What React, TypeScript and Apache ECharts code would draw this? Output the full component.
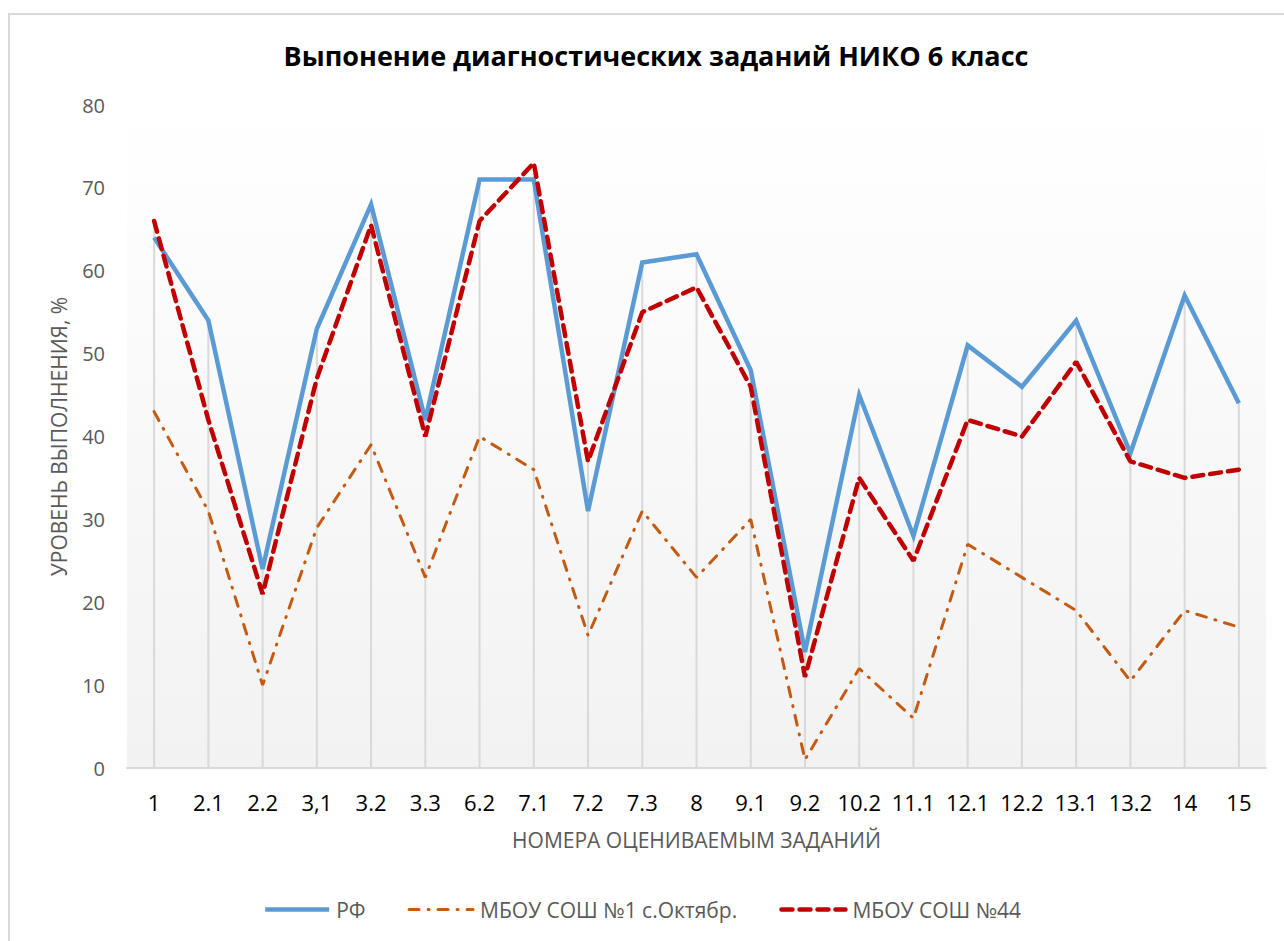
import React, { useEffect, useRef } from "react";
import * as echarts from "echarts";

const categories = ["1", "2.1", "2.2", "3,1", "3.2", "3.3", "6.2", "7.1", "7.2", "7.3", "8", "9.1", "9.2", "10.2", "11.1", "12.1", "12.2", "13.1", "13.2", "14", "15"];
const rfValues = [64, 54, 24, 53, 68, 42, 71, 71, 31, 61, 62, 48, 14, 45, 28, 51, 46, 54, 38, 57, 44];
const school1Values = [43, 31, 10, 29, 39, 23, 40, 36, 16, 31, 23, 30, 1, 12, 6, 27, 23, 19, 10.5, 19, 17];
const school44Values = [66, 42, 21, 47, 65.5, 40, 66, 73, 37, 55, 58, 46, 11, 35, 25, 42, 40, 49, 37, 35, 36];
const yTicks = [0, 10, 20, 30, 40, 50, 60, 70, 80];

const seriesNames = ["РФ", "МБОУ СОШ №1 с.Октябр.", "МБОУ СОШ №44"];
const dropLineValues = categories.map((_, i) => Math.max(rfValues[i], school1Values[i], school44Values[i]));

export default function App() {
  const ref = useRef<HTMLDivElement>(null);
  useEffect(() => {
    if (!ref.current) return;
    const chart = echarts.init(ref.current, null, { renderer: "svg" });
    const font = "'Open Sans', 'Noto Sans', sans-serif";
    chart.setOption({
      animation: false,
      backgroundColor: "#ffffff",
      textStyle: { fontFamily: font },
      title: {
        text: "Выпонение диагностических заданий НИКО 6 класс",
        left: 651,
        top: 37,
        textAlign: "center",
        textStyle: { fontSize: 27, fontWeight: "bold", color: "#000000", fontFamily: font },
      },
      graphic: [
        {
          type: "rect",
          shape: { x: 9, y: 14, width: 1400, height: 1000 },
          style: { fill: "none", stroke: "#d9d9d9", lineWidth: 2 },
          silent: true,
        },
      ],
      legend: {
        data: seriesNames,
        bottom: 16,
        left: "center",
        itemWidth: 64,
        itemHeight: 10,
        itemGap: 42,
        itemStyle: { opacity: 0 },
        lineStyle: { width: "inherit" },
        textStyle: { fontSize: 21, color: "#595959", fontFamily: font, padding: [0, 0, 0, 2] },
      },
      grid: {
        left: 127,
        right: 18,
        top: 105,
        bottom: 173,
        show: true,
        borderWidth: 0,
        backgroundColor: new echarts.graphic.LinearGradient(0, 0, 0, 1, [
          { offset: 0, color: "#ffffff" },
          { offset: 1, color: "#f2f2f2" },
        ]),
      },
      xAxis: {
        type: "category",
        data: categories,
        boundaryGap: true,
        name: "НОМЕРА ОЦЕНИВАЕМЫМ ЗАДАНИЙ",
        nameLocation: "middle",
        nameGap: 61,
        nameTextStyle: { fontSize: 21, color: "#595959" },
        axisLine: { show: true, lineStyle: { color: "#d9d9d9", width: 2 } },
        axisTick: { show: false },
        axisLabel: { fontSize: 22, color: "#000000", margin: 23, interval: 0 },
        splitLine: { show: false },
      },
      yAxis: {
        type: "value",
        min: 0,
        max: 80,
        interval: 10,
        name: "УРОВЕНЬ ВЫПОЛНЕНИЯ, %",
        nameLocation: "middle",
        nameGap: 58,
        nameTextStyle: { fontSize: 21, color: "#595959" },
        axisLine: { show: false },
        axisTick: { show: false },
        splitLine: { show: false },
        axisLabel: {
          fontSize: 20,
          color: "#595959",
          margin: 22,
          formatter: (v: number) => (yTicks.includes(v) ? String(v) : ""),
        },
      },
      series: [
        {
          name: "drop",
          type: "bar",
          data: dropLineValues,
          barWidth: 2,
          itemStyle: { color: "#d9d9d9" },
          silent: true,
          z: 1,
        },
        {
          name: seriesNames[0],
          type: "line",
          data: rfValues,
          showSymbol: false,
          symbol: "none",
          lineStyle: { color: "#5b9bd5", width: 4.5, join: "miter" },
          itemStyle: { color: "#5b9bd5" },
          z: 3,
        },
        {
          name: seriesNames[1],
          type: "line",
          data: school1Values,
          showSymbol: false,
          symbol: "none",
          lineStyle: { color: "#c55a11", width: 3, type: [10, 9, 1, 9], cap: "round" },
          itemStyle: { color: "#c55a11" },
          z: 3,
        },
        {
          name: seriesNames[2],
          type: "line",
          data: school44Values,
          showSymbol: false,
          symbol: "none",
          lineStyle: { color: "#c00000", width: 4.5, type: [11, 7], cap: "round" },
          itemStyle: { color: "#c00000" },
          z: 4,
        },
      ],
    });
    return () => chart.dispose();
  }, []);
  return (
    <div
      ref={ref}
      style={{ position: "absolute", left: 0, top: 0, width: 1284, height: 941 }}
    />
  );
}
